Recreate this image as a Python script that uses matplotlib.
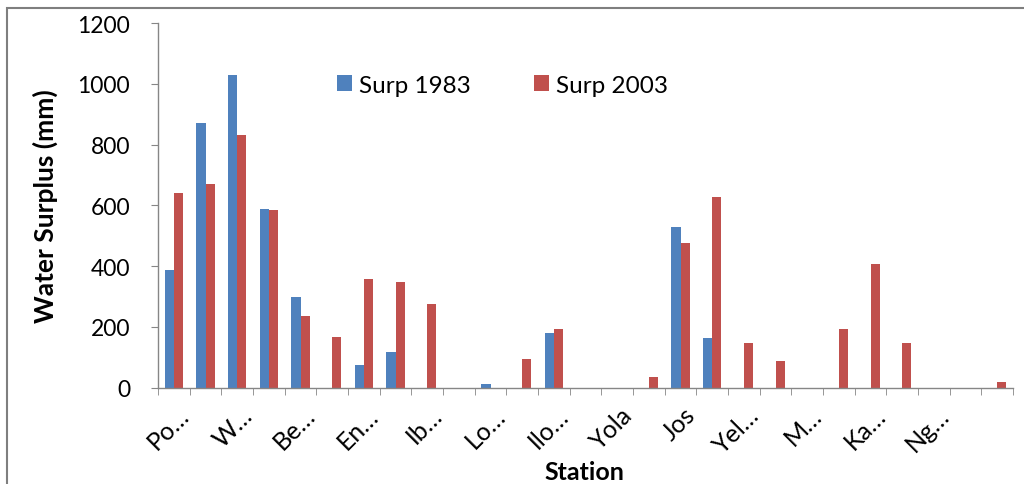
import numpy as np
import matplotlib
matplotlib.use("Agg")
import matplotlib.pyplot as plt
import matplotlib.transforms as mtransforms
from matplotlib.patches import Rectangle

plt.rcParams['font.family'] = ['Lato', 'DejaVu Sans']

# station labels (only every other one fits on the axis)
stations = ["Po…", "", "W…", "", "Be…", "", "En…", "", "Ib…", "", "Lo…", "",
            "Ilo…", "", "Yola", "", "Jos", "", "Yel…", "", "M…", "", "Ka…", "",
            "Ng…", "", ""]

# water surplus (mm)
surp_1983 = [387, 872, 1029, 589, 297, 0, 74, 117, 0, 0, 11, 0, 180, 0,
             0, 0, 530, 163, 0, 0, 0, 0, 0, 0, 0, 0, 0]
surp_2003 = [640, 670, 831, 585, 235, 167, 357, 349, 276, 0, 0, 95, 192, 0,
             0, 35, 475, 628, 146, 87, 0, 192, 408, 146, 0, 0, 18]

blue = '#4F81BD'
red = '#C0504D'
axis_grey = '#868686'

fig = plt.figure(figsize=(10.24, 4.85), dpi=100)
ax = fig.add_axes([0.1543, 0.1986, 0.835, 0.7515])

x = np.arange(len(stations))
w = 1 / 3.5  # gap width 150%
ax.bar(x - w / 2, surp_1983, w, color=blue, label='Surp 1983')
ax.bar(x + w / 2, surp_2003, w, color=red, label='Surp 2003')

ax.set_xlim(-0.5, len(stations) - 0.5)
ax.set_ylim(0, 1200)
ax.set_yticks(range(0, 1201, 200))

for s in ['top', 'right']:
    ax.spines[s].set_visible(False)
for s in ['left', 'bottom']:
    ax.spines[s].set_color(axis_grey)
    ax.spines[s].set_linewidth(1.0)

ax.tick_params(axis='y', direction='out', length=5, color=axis_grey,
               labelsize=16.5, pad=15)
ax.set_xticks(x)
ax.set_xticklabels(stations, rotation=45, ha='right', va='top',
                   rotation_mode='anchor', fontsize=18)
ax.tick_params(axis='x', which='major', length=0, pad=11)
ax.set_xticks(np.arange(-0.5, len(stations), 1.0), minor=True)
ax.tick_params(axis='x', which='minor', direction='out', length=5,
               color=axis_grey)

# nudge the slanted station names a little to the right
shift = mtransforms.ScaledTranslation(3 / 100, 0, fig.dpi_scale_trans)
for lab in ax.get_xticklabels():
    lab.set_transform(lab.get_transform() + shift)

ax.set_ylabel('Water Surplus (mm)', fontsize=19, fontweight='bold',
              labelpad=14)
ax.set_xlabel('Station', fontsize=18, fontweight='bold')
ax.xaxis.set_label_coords(0.499, -0.2505)
ax.xaxis.label.set_va('baseline')

ax.legend(loc='center', bbox_to_anchor=(0.403, 0.83), ncol=2, frameon=False,
          fontsize=17.5, handlelength=0.6, handleheight=0.6,
          handletextpad=0.3, columnspacing=2.6)

# chart area border
fig.patches.append(Rectangle((7 / 1024, -0.2), 1.2, 1 - 9 / 485 + 0.2,
                             transform=fig.transFigure, fill=False,
                             edgecolor='#7f7f7f', linewidth=1.5))

fig.savefig('out.png', dpi=100)
